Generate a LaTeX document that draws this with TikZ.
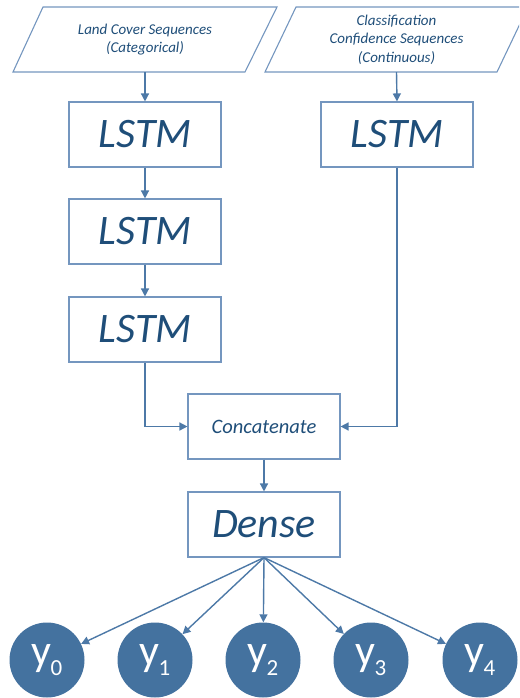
\documentclass[tikz,border=0pt]{standalone}
\usepackage{fontspec}
\setmainfont{Carlito}
\usetikzlibrary{arrows.meta}
\definecolor{edgeblue}{HTML}{7496BF}
\definecolor{arrowblue}{HTML}{4D79A7}
\definecolor{textblue}{HTML}{1F4E79}
\definecolor{nodefill}{HTML}{44729F}
\tikzset{
  layerbox/.style={draw=edgeblue, line width=1.1pt, minimum width=152pt, minimum height=65pt,
    inner sep=0pt, text=textblue, font=\itshape\fontsize{42}{42}\selectfont},
  inputbox/.style={minimum width=200pt, minimum height=65pt, inner sep=0pt, align=center,
    text=textblue, font=\itshape\fontsize{15}{18.5}\selectfont},
  outnode/.style={circle, fill=nodefill, minimum size=75pt, inner sep=0pt, text=white},
  arr/.style={draw=arrowblue, line width=1.4pt, -{Triangle[width=8pt,length=8pt]}},
  slant/.style={draw=edgeblue, line width=1.1pt, line join=miter}
}
\newcommand{\yout}[1]{\raisebox{-3pt}{{\fontsize{44}{44}\selectfont y}\kern-1pt\raisebox{-10pt}{\fontsize{23}{23}\selectfont #1}}}
\begin{document}
\begin{tikzpicture}[x=1pt,y=-1pt]
\useasboundingbox (0,0) rectangle (519,698);
\clip (0,0) rectangle (519,698);

% input sequences (parallelograms)
\draw[slant] (43,7) -- (277,7) -- (245,72) -- (13,72) -- cycle;
\draw[slant] (296,7) -- (528,7) -- (497,72) -- (265,72) -- cycle;
\node[inputbox] (inA) at (145,39.5) {Land Cover Sequences\\(Categorical)};
\node[inputbox] (inB) at (396.5,39.5) {Classification\\Confidence Sequences\\(Continuous)};

% recurrent layers
\node[layerbox] (l1) at (145,134.5) {LSTM};
\node[layerbox] (l2) at (145,231.5) {LSTM};
\node[layerbox] (l3) at (145,329.5) {LSTM};
\node[layerbox] (r1) at (397,134.5) {LSTM};

% merge and dense layers
\node[layerbox, font=\itshape\fontsize{20.5}{20.5}\selectfont] (cc) at (264,426.5) {Concatenate};
\node[layerbox] (dn) at (264,524.5) {Dense};

% outputs
\node[outnode] (y0) at (47,660) {\yout{0}};
\node[outnode] (y1) at (155,660) {\yout{1}};
\node[outnode] (y2) at (263,660) {\yout{2}};
\node[outnode] (y3) at (371,660) {\yout{3}};
\node[outnode] (y4) at (480,660) {\yout{4}};

% connectors
\draw[arr] (inA.south) -- (l1.north);
\draw[arr] (inB.south) -- (r1.north);
\draw[arr] (l1) -- (l2);
\draw[arr] (l2) -- (l3);
\draw[arr] (l3.south) |- (cc.west);
\draw[arr] (r1.south) |- (cc.east);
\draw[arr] (cc) -- (dn);
\foreach \k in {0,...,4} \draw[arr] (dn.south) -- (y\k);
\end{tikzpicture}
\end{document}
